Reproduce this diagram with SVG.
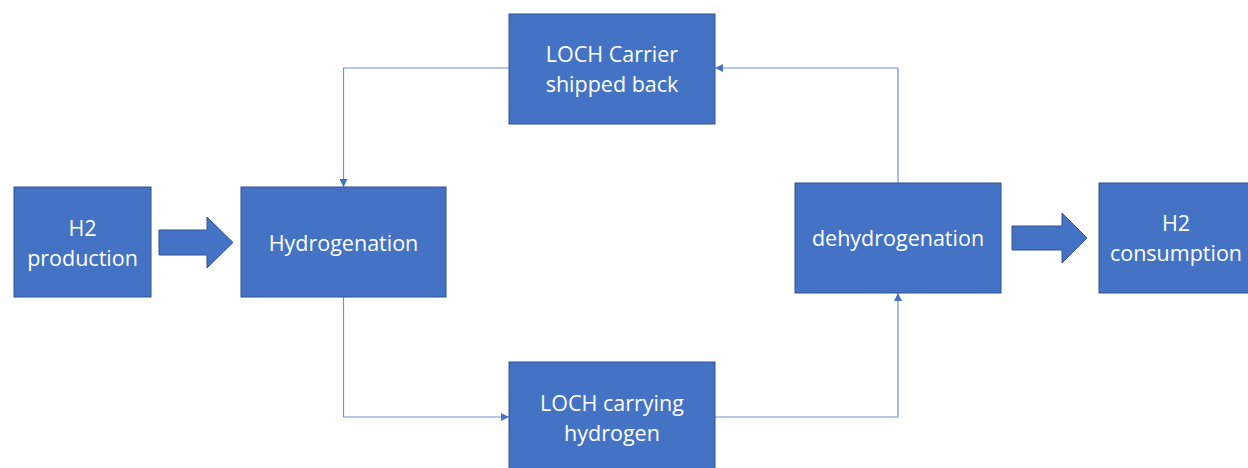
<svg xmlns="http://www.w3.org/2000/svg" width="1248" height="468" viewBox="0 0 1248 468">
<style>
.box{fill:#4472C4;stroke:#2F528F;stroke-width:1}
.t{font-family:"Open Sans","Liberation Sans",sans-serif;font-size:21.5px;fill:#FFFFFF;text-anchor:middle}
.c{fill:none;stroke:#6F93D3;stroke-width:1.2}
.big{fill:#4472C4;stroke:#2F528F;stroke-width:1}
</style>
<defs>
<marker id="ah" viewBox="0 0 10 10" refX="10" refY="5" markerWidth="8" markerHeight="8" markerUnits="userSpaceOnUse" orient="auto">
<path d="M0,0 L10,5 L0,10 Z" fill="#4472C4"/>
</marker>
</defs>
<rect width="1248" height="468" fill="#FFFFFF"/>
<g id="connectors">
<path class="c" d="M509,68 H343.5 V187" marker-end="url(#ah)"/>
<path class="c" d="M343.5,297 V417 H509" marker-end="url(#ah)"/>
<path class="c" d="M715,417 H898 V293" marker-end="url(#ah)"/>
<path class="c" d="M898,183 V68 H715" marker-end="url(#ah)"/>
<polygon class="big" points="159,230 207,230 207,217 233,242.5 207,268 207,255 159,255"/>
<polygon class="big" points="1012,226 1062,226 1062,213 1087,238 1062,263 1062,250 1012,250"/>
</g>
<g id="h2production">
<rect class="box" x="14" y="187" width="137" height="110"/>
<text class="t" x="82.5" y="236">H2</text>
<text class="t" x="82.5" y="266">production</text>
</g>
<g id="hydrogenation">
<rect class="box" x="241" y="187" width="205" height="110"/>
<text class="t" x="343.5" y="251">Hydrogenation</text>
</g>
<g id="carrierback">
<rect class="box" x="509" y="14" width="206" height="110"/>
<text class="t" x="612" y="62">LOCH Carrier</text>
<text class="t" x="612" y="92">shipped back</text>
</g>
<g id="carrying">
<rect class="box" x="509" y="362" width="206" height="110"/>
<text class="t" x="612" y="411">LOCH carrying</text>
<text class="t" x="612" y="441">hydrogen</text>
</g>
<g id="dehydrogenation">
<rect class="box" x="795" y="183" width="206" height="110"/>
<text class="t" x="898" y="246">dehydrogenation</text>
</g>
<g id="h2consumption">
<rect class="box" x="1099" y="183" width="155" height="110"/>
<text class="t" x="1176" y="231">H2</text>
<text class="t" x="1176" y="261">consumption</text>
</g>
</svg>
